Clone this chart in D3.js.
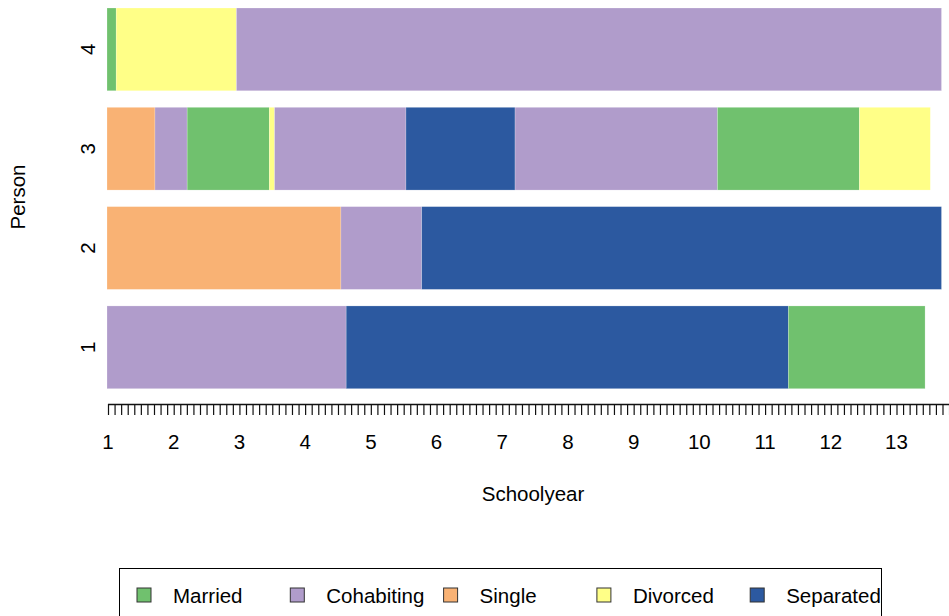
<!DOCTYPE html>
<html>
<head>
<meta charset="utf-8">
<script src="https://cdn.jsdelivr.net/npm/d3@7"></script>
<style>
  body { margin: 0; background: #fff; }
  text { font-family: "Liberation Sans", Arial, sans-serif; fill: #000; }
</style>
</head>
<body>
<svg id="chart" width="949" height="616"></svg>
<script>
// states and their colours
var states = ["Married", "Cohabiting", "Single", "Divorced", "Separated"];
var stateColors = ["#70c16e", "#b09ccb", "#f9b274", "#ffff87", "#2c59a0"];

var persons = ["1", "2", "3", "4"];

// each person: list of [state, end of spell in schoolyears], all start at 1
var person1 = [["Cohabiting", 4.64], ["Separated", 11.37], ["Married", 13.45]];
var person2 = [["Single", 4.56], ["Cohabiting", 5.79], ["Separated", 13.70]];
var person3 = [["Single", 1.73], ["Cohabiting", 2.22], ["Married", 3.47], ["Divorced", 3.55],
               ["Cohabiting", 5.55], ["Separated", 7.21], ["Cohabiting", 10.29],
               ["Married", 12.45], ["Divorced", 13.53]];
var person4 = [["Married", 1.14], ["Divorced", 2.97], ["Cohabiting", 13.70]];

var xTickLabels = [1, 2, 3, 4, 5, 6, 7, 8, 9, 10, 11, 12, 13];
var xMin = 1, xMax = 13.8;

var svg = d3.select("#chart");

var x = d3.scaleLinear().domain([1, 13]).range([108, 896.5]);
var y = d3.scaleBand().domain(persons.slice().reverse()).range([8, 388.7])
    .paddingInner(0.1667).paddingOuter(0);
var color = d3.scaleOrdinal().domain(states).range(stateColors);

// flatten spells into segments
var spells = [];
[person1, person2, person3, person4].forEach(function(p, i) {
    var start = 1;
    p.forEach(function(s) {
        spells.push({person: persons[i], state: s[0], start: start, end: s[1]});
        start = s[1];
    });
});

svg.append("g").selectAll("rect")
    .data(spells)
    .enter()
    .append("rect")
    .attr("x", function(d) { return x(d.start) - 1; })
    .attr("width", function(d) { return x(d.end) - x(d.start); })
    .attr("y", function(d) { return y(d.person); })
    .attr("height", y.bandwidth())
    .attr("fill", function(d) { return color(d.state); })
    .attr("stroke", "#ffffff")
    .attr("stroke-opacity", 0.35)
    .attr("stroke-width", 0.6);

// x axis: ticks every 0.1, labels only at whole years
var minorTicks = d3.range(0, Math.round((xMax - xMin) * 10) + 1).map(function(i) { return xMin + i / 10; });
var xAxis = d3.axisBottom(x)
    .tickValues(minorTicks)
    .tickSize(11)
    .tickFormat("");
var gx = svg.append("g").attr("transform", "translate(0,404)").call(xAxis);
gx.select(".domain").attr("d", "M" + x(xMin) + ",0.5H" + x(xMax)).attr("stroke", "#111").attr("stroke-width", 1.3);
gx.selectAll(".tick line").attr("stroke", "#111").attr("stroke-width", 1.2);

svg.append("g").selectAll("text")
    .data(xTickLabels)
    .enter()
    .append("text")
    .attr("x", function(d) { return x(d); })
    .attr("y", 449)
    .attr("text-anchor", "middle")
    .style("font-size", "20.5px")
    .text(function(d) { return d; });

svg.append("text")
    .attr("x", 533)
    .attr("y", 501)
    .attr("text-anchor", "middle")
    .style("font-size", "20.5px")
    .text("Schoolyear");

// y labels, rotated like R
svg.append("g").selectAll("text")
    .data(persons)
    .enter()
    .append("text")
    .attr("transform", function(d) {
        return "translate(95," + (y(d) + y.bandwidth() / 2) + ") rotate(-90)";
    })
    .attr("text-anchor", "middle")
    .style("font-size", "20.5px")
    .text(function(d) { return d; });

svg.append("text")
    .attr("transform", "translate(25,197) rotate(-90)")
    .attr("text-anchor", "middle")
    .style("font-size", "20.5px")
    .text("Person");

// legend
var legend = svg.append("g");
legend.append("rect")
    .attr("x", 119.5).attr("y", 568.5)
    .attr("width", 762).attr("height", 60)
    .attr("fill", "none").attr("stroke", "#000").attr("stroke-width", 1);

var item = legend.selectAll("g.item")
    .data(states)
    .enter()
    .append("g")
    .attr("class", "item")
    .attr("transform", function(d, i) { return "translate(" + (137 + i * 153.3) + ",588)"; });

item.append("rect")
    .attr("width", 14).attr("height", 14)
    .attr("fill", function(d) { return color(d); })
    .attr("stroke", "#333").attr("stroke-width", 1);

item.append("text")
    .attr("x", 36)
    .attr("y", 14.5)
    .style("font-size", "20.5px")
    .text(function(d) { return d; });
</script>
</body>
</html>
